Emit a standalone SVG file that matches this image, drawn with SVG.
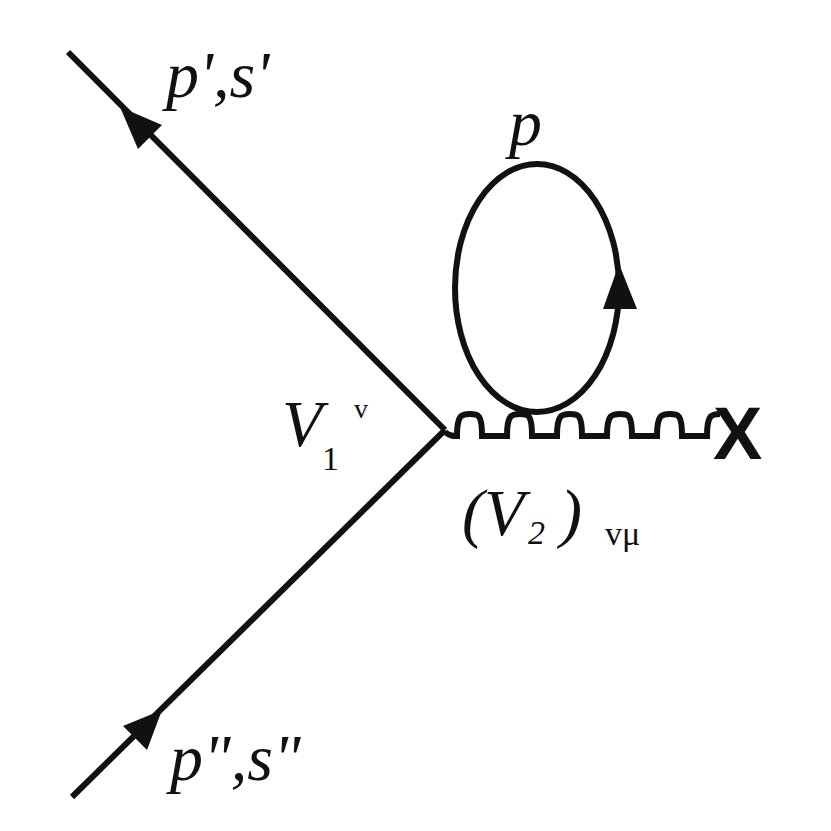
<svg xmlns="http://www.w3.org/2000/svg" width="831" height="831" viewBox="0 0 831 831">
<style>
.l{stroke:#111;stroke-width:6;fill:none}
.t{font-family:"Liberation Serif","Times New Roman",serif;font-style:italic;fill:#111}
.u{font-family:"Liberation Serif","Times New Roman",serif;fill:#111}
.a{fill:#111}
</style>
<rect width="831" height="831" fill="#fff"/>
<g id="connectors">
<line class="l" x1="68" y1="52" x2="445" y2="430"/>
<line class="l" x1="445" y1="430" x2="72" y2="797"/>
<path class="l" d="M445,432 C450,436 453,436 457,436 C457,414 462,414 470,414 C478,414 482,414 482,436 C496,436 507,436 507,436 C507,414 512,414 520,414 C528,414 532,414 532,436 C546,436 557,436 557,436 C557,414 562,414 570,414 C578,414 582,414 582,436 C596,436 607,436 607,436 C607,414 612,414 620,414 C628,414 632,414 632,436 C646,436 657,436 657,436 C657,414 662,414 670,414 C678,414 682,414 682,436 C696,436 707,436 707,436 C707,414 712,414 720,414"/>
</g>
<g id="arrow-top"><polygon class="a" points="120,107 138,149 162,125"/></g>
<g id="arrow-bottom"><polygon class="a" points="162,710 123,726 147,750"/></g>
<g id="loop">
<ellipse class="l" cx="537" cy="288" rx="82" ry="124"/>
<polygon class="a" points="619,264 603,309 637,309"/>
</g>
<g id="x"><text x="713" y="459" font-weight="bold" font-size="74" style="font-family:'Liberation Sans',sans-serif" fill="#111">X</text></g>
<g id="labels">
<text class="t" x="166" y="97" font-size="66">p',s'</text>
<text class="t" x="170" y="780" font-size="66">p",s"</text>
<text class="t" x="509" y="145" font-size="66">p</text>
<text class="t" x="282" y="446" font-size="66">V</text>
<text class="u" x="322" y="470" font-size="34">1</text>
<text class="u" x="354" y="418" font-size="28">v</text>
<text class="t" x="462" y="535" font-size="66">(V</text>
<text class="t" x="528" y="544" font-size="34">2</text>
<text class="t" x="560" y="535" font-size="66">)</text>
<text class="u" x="605" y="545" font-size="34">vμ</text>
</g>
</svg>
